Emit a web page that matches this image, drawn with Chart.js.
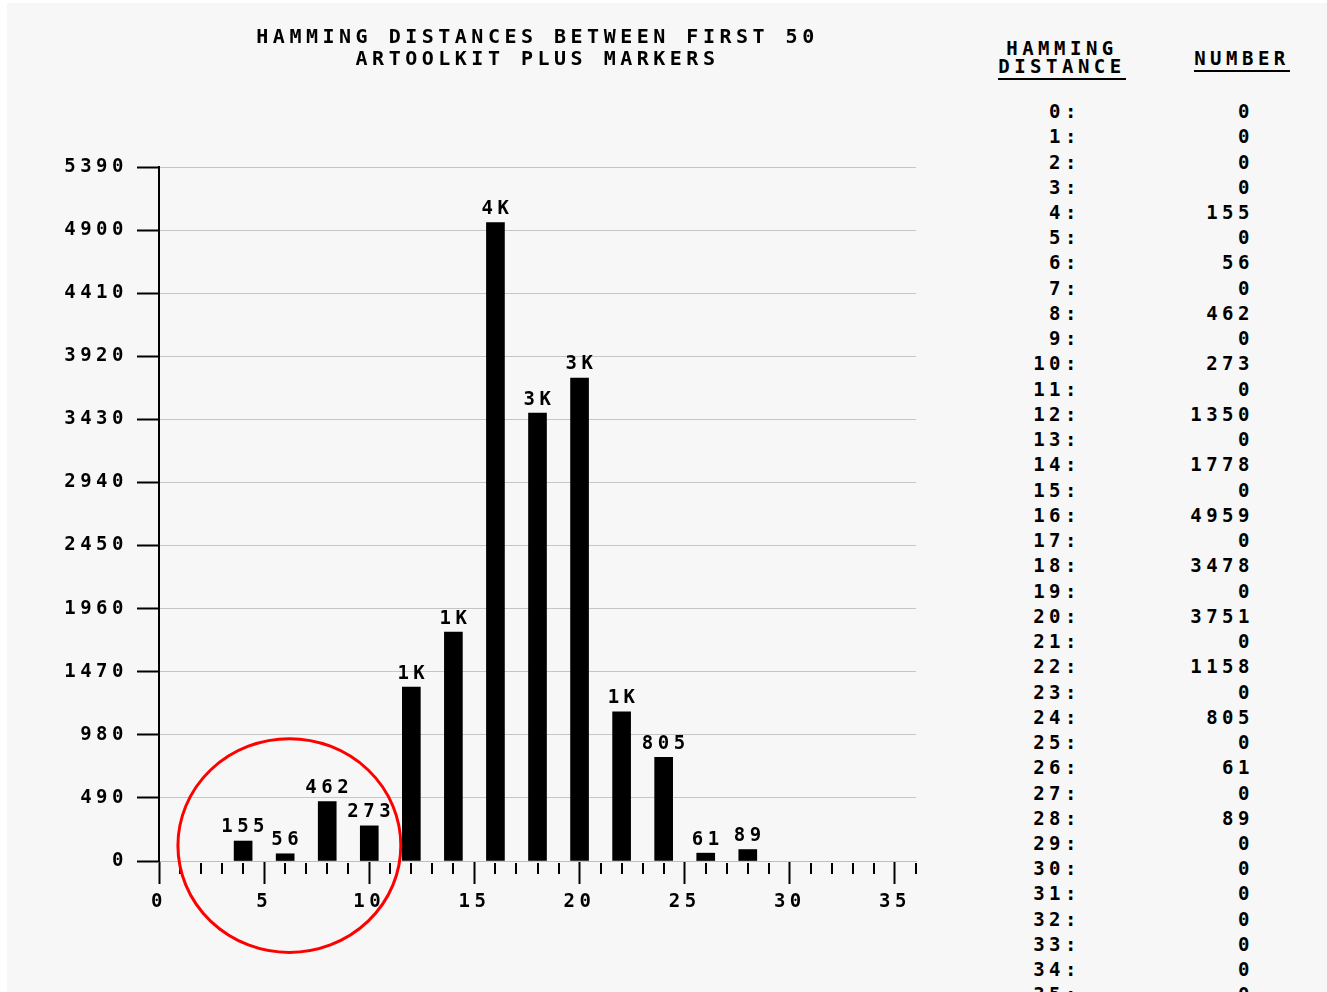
<!DOCTYPE html>
<html>
<head>
<meta charset="utf-8">
<script src="https://cdn.jsdelivr.net/npm/chart.js@4.4.1/dist/chart.umd.min.js"></script>
<style>
    html, body { margin: 0; padding: 0; background: #ffffff; }
    body { width: 1327px; height: 992px; position: relative; overflow: hidden; }
    #paper { position: absolute; left: 7px; top: 3px; right: 0; bottom: 0; background: #f7f7f7; }
    #chart { position: absolute; left: 0; top: 0; }
    .mono { font-family: "DejaVu Sans Mono", monospace; font-weight: bold; font-size: 19px; letter-spacing: 4.5px; color: #000; }
    .hdr { position: absolute; text-align: center; line-height: 18px; }
    .hdr span { border-bottom: 2px solid #000; padding-bottom: 1px; }
    .cell { position: absolute; text-align: right; line-height: 20px; white-space: pre; }
</style>
</head>
<body>
<div id="paper"></div>
<canvas id="chart" width="960" height="992"></canvas>
<div id="table"></div>
<script>
// Hamming distance histogram, first 50 ARToolKit Plus markers
const distances = [];
for (let d = 0; d <= 35; d++) distances.push(d);
const counts = [0, 0, 0, 0, 155, 0, 56, 0, 462, 0, 273, 0, 1350, 0, 1778, 0, 4959, 0,
                3478, 0, 3751, 0, 1158, 0, 805, 0, 61, 0, 89, 0, 0, 0, 0, 0, 0, 0];
const titleLines = ['HAMMING DISTANCES BETWEEN FIRST 50', 'ARTOOLKIT PLUS MARKERS'];
const tableHeaders = [['HAMMING', 'DISTANCE'], ['NUMBER']];
const yTickStep = 490;
const yMax = 5390;
const xMax = 36;

// red hand-drawn circle around the low distances (data units)
const circleCenter = { x: 6.2, y: 120 };
const circleRadius = { x: 5.3, y: 830 };

const FONT = '"DejaVu Sans Mono", monospace';
const SPACING = '4.5px';

// bars only where there is something
const barPoints = [];
distances.forEach((d, i) => {
    if (counts[i] > 0) barPoints.push({ x: d, y: counts[i] });
});

function shortLabel(v) {
    return v >= 1000 ? Math.floor(v / 1000) + 'K' : String(v);
}

// canvas has no css letter-spacing, set it on the context
const spacingPlugin = {
    id: 'spacing',
    beforeLayout(chart) { chart.ctx.letterSpacing = SPACING; },
    beforeDraw(chart) { chart.ctx.letterSpacing = SPACING; }
};

const barLabelPlugin = {
    id: 'barLabels',
    afterDatasetsDraw(chart) {
        const ctx = chart.ctx;
        const meta = chart.getDatasetMeta(0);
        ctx.save();
        ctx.font = 'bold 19px ' + FONT;
        ctx.fillStyle = '#000';
        ctx.textAlign = 'center';
        ctx.textBaseline = 'bottom';
        meta.data.forEach((bar, i) => {
            const v = chart.data.datasets[0].data[i].y;
            ctx.fillText(shortLabel(v), bar.x + 2, bar.y - 4);
        });
        ctx.restore();
    }
};

// short minor ticks on x axis (majors come from the grid tick marks)
const minorTickPlugin = {
    id: 'minorTicks',
    afterDraw(chart) {
        const x = chart.scales.x;
        const ctx = chart.ctx;
        ctx.save();
        ctx.strokeStyle = '#000';
        ctx.lineWidth = 2;
        x.ticks.forEach(t => {
            if (t.value % 5 === 0) return;
            const px = Math.round(x.getPixelForValue(t.value));
            ctx.beginPath();
            ctx.moveTo(px, x.top + 2);
            ctx.lineTo(px, x.top + 13);
            ctx.stroke();
        });
        ctx.restore();
    }
};

const circlePlugin = {
    id: 'redCircle',
    afterDraw(chart) {
        const xs = chart.scales.x, ys = chart.scales.y;
        const cx = xs.getPixelForValue(circleCenter.x);
        const cy = ys.getPixelForValue(circleCenter.y);
        const rx = Math.abs(xs.getPixelForValue(circleCenter.x + circleRadius.x) - cx);
        const ry = Math.abs(ys.getPixelForValue(circleCenter.y + circleRadius.y) - cy);
        const ctx = chart.ctx;
        ctx.save();
        ctx.strokeStyle = '#ff0000';
        ctx.lineWidth = 3;
        ctx.beginPath();
        ctx.ellipse(cx, cy, rx, ry, 0, 0, Math.PI * 2);
        ctx.stroke();
        ctx.restore();
    }
};

new Chart(document.getElementById('chart'), {
    type: 'bar',
    data: {
        datasets: [{
            data: barPoints,
            backgroundColor: '#000000',
            borderWidth: 0,
            barThickness: 18
        }]
    },
    options: {
        responsive: false,
        animation: false,
        layout: { padding: { left: 0, right: 44, top: 0, bottom: 0 } },
        plugins: {
            legend: { display: false },
            tooltip: { enabled: false },
            title: {
                display: true,
                fullSize: false,
                text: titleLines,
                color: '#000',
                font: { family: FONT, size: 20, weight: 'bold', lineHeight: 1.1 },
                padding: { top: 27, bottom: 96 }
            }
        },
        scales: {
            x: {
                type: 'linear',
                offset: false,
                min: 0,
                max: xMax,
                afterFit(scale) { scale.height = 131; },
                ticks: {
                    stepSize: 1,
                    autoSkip: false,
                    maxRotation: 0,
                    padding: 7,
                    color: '#000',
                    font: { family: FONT, size: 19, weight: 'bold' },
                    callback: v => (v % 5 === 0 ? String(v) : '')
                },
                grid: {
                    offset: false,
                    drawOnChartArea: false,
                    tickLength: 23,
                    tickWidth: 2,
                    tickColor: c => (c.tick && c.tick.value % 5 === 0 ? '#000' : 'rgba(0,0,0,0)')
                },
                border: { color: '#bdbdbd', width: 1 }
            },
            y: {
                min: 0,
                max: yMax,
                afterFit(scale) { scale.width = 159; },
                ticks: {
                    stepSize: yTickStep,
                    padding: 9,
                    color: '#000',
                    font: { family: FONT, size: 19, weight: 'bold' },
                    callback: v => String(v)
                },
                grid: {
                    color: '#c6c6c6',
                    lineWidth: 1,
                    tickLength: 22,
                    tickWidth: 2,
                    tickColor: '#000'
                },
                border: { color: '#000', width: 2 }
            }
        }
    },
    plugins: [spacingPlugin, barLabelPlugin, minorTickPlugin, circlePlugin]
});

// right-hand table
const table = document.getElementById('table');
function addDiv(cls, html, style) {
    const el = document.createElement('div');
    el.className = cls;
    el.innerHTML = html;
    Object.assign(el.style, style);
    table.appendChild(el);
    return el;
}
addDiv('mono hdr', tableHeaders[0].map((s, i) => (i === tableHeaders[0].length - 1 ? '<span>' + s + '</span>' : s)).join('<br>'),
    { left: '978px', width: '168px', top: '39px' });
addDiv('mono hdr', '<span>' + tableHeaders[1][0] + '</span>', { left: '1158px', width: '168px', top: '49px' });

const rowTop = 101, rowStep = 25.24;
distances.forEach((d, i) => {
    const top = (rowTop + i * rowStep).toFixed(1) + 'px';
    addDiv('mono cell', d + ':', { left: '980px', width: '101px', top });
    addDiv('mono cell', String(counts[i]), { left: '1150px', width: '104px', top });
});
</script>
</body>
</html>
